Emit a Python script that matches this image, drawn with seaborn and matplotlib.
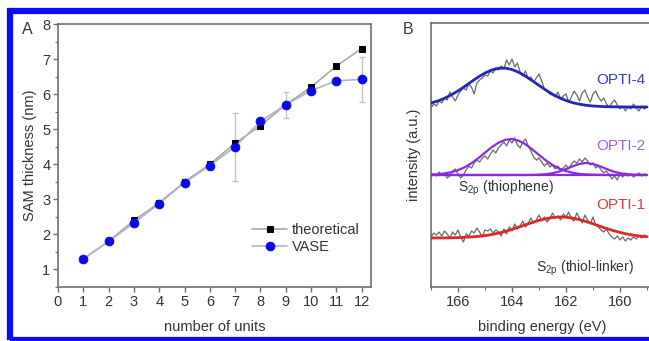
import numpy as np
import pandas as pd
import matplotlib
matplotlib.use("Agg")
import matplotlib.pyplot as plt
import seaborn as sns
from matplotlib.patches import Rectangle

sns.set_theme(style="white")
plt.rcParams['font.family'] = ['Liberation Sans', 'DejaVu Sans']

# ---------------- Panel A data ----------------
units = [1, 2, 3, 4, 5, 6, 7, 8, 9, 10, 11, 12]
theoretical = [1.3, 1.8, 2.4, 2.9, 3.5, 4.0, 4.6, 5.1, 5.7, 6.2, 6.8, 7.3]
vase = [1.3, 1.8, 2.32, 2.88, 3.48, 3.96, 4.5, 5.22, 5.7, 6.1, 6.38, 6.42]
vase_err = [0.03, 0.03, 0.05, 0.04, 0.04, 0.04, 0.97, 0.08, 0.37, 0.05, 0.05, 0.65]

# ---------------- Panel B data ----------------
energy = [167.0, 166.9, 166.8, 166.7, 166.6, 166.5, 166.4, 166.3, 166.2, 166.1,
          166.0, 165.9, 165.8, 165.7, 165.6, 165.5, 165.4, 165.3, 165.2, 165.1,
          165.0, 164.9, 164.8, 164.7, 164.6, 164.5, 164.4, 164.3, 164.2, 164.1,
          164.0, 163.9, 163.8, 163.7, 163.6, 163.5, 163.4, 163.3, 163.2, 163.1,
          163.0, 162.9, 162.8, 162.7, 162.6, 162.5, 162.4, 162.3, 162.2, 162.1,
          162.0, 161.9, 161.8, 161.7, 161.6, 161.5, 161.4, 161.3, 161.2, 161.1,
          161.0, 160.9, 160.8, 160.7, 160.6, 160.5, 160.4, 160.3, 160.2, 160.1,
          160.0, 159.9, 159.8, 159.7, 159.6, 159.5, 159.4, 159.3, 159.2, 159.1,
          159.0]
opti4_raw = [179, 183, 181, 186, 184, 189, 187, 195, 190, 186,
             192, 196, 199, 197, 203, 200, 193, 204, 207, 209,
             212, 211, 216, 214, 219, 217, 221, 218, 227, 222,
             228, 220, 224, 215, 211, 216, 208, 210, 205, 209,
             213, 206, 198, 196, 193, 192, 190, 195, 188, 191,
             193, 185, 190, 196, 192, 186, 194, 197, 190, 185,
             193, 196, 190, 186, 189, 183, 180, 184, 187, 182,
             178, 181, 176, 180, 178, 183, 179, 176, 181, 178,
             180]
opti2_raw = [110, 113, 111, 115, 112, 114, 109, 111, 116, 118,
             113, 109, 112, 117, 121, 119, 124, 127, 125, 129,
             131, 128, 133, 137, 134, 139, 142, 145, 141, 147,
             144, 149, 142, 139, 145, 148, 141, 136, 130, 127,
             129, 125, 121, 124, 120, 122, 118, 121, 117, 119,
             122, 118, 123, 126, 124, 128, 125, 129, 126, 122,
             124, 119, 121, 117, 114, 116, 112, 108, 111, 107,
             113, 110, 114, 111, 113, 110, 112, 114, 111, 113,
             112]
opti1_raw = [50, 54, 52, 55, 51, 56, 53, 49, 55, 52,
             57, 50, 45, 53, 51, 56, 54, 59, 55, 50,
             57, 56, 58, 54, 57, 55, 51, 58, 53, 60,
             56, 63, 58, 61, 66, 60, 64, 69, 64, 67,
             72, 66, 70, 65, 68, 74, 69, 71, 67, 73,
             70, 75, 68, 66, 74, 69, 64, 72, 67, 63,
             70, 62, 60, 57, 55, 58, 53, 50, 48, 51,
             47, 50, 46, 49, 47, 50, 48, 51, 49, 52,
             50]

fit_energy = [167.0, 166.75, 166.5, 166.25, 166.0, 165.75, 165.5, 165.25, 165.0,
              164.75, 164.5, 164.25, 164.0, 163.75, 163.5, 163.25, 163.0, 162.75,
              162.5, 162.25, 162.0, 161.75, 161.5, 161.25, 161.0, 160.75, 160.5,
              160.25, 160.0, 159.75, 159.5, 159.25, 159.0]
opti4_fit = [184.0, 186.0, 188.7, 192.1, 196.1, 200.6, 205.4, 210.0, 214.0,
             217.0, 218.7, 218.9, 217.5, 214.7, 210.8, 206.3, 201.6, 197.0,
             192.8, 189.3, 186.5, 184.3, 182.8, 181.7, 181.0, 180.6, 180.3,
             180.2, 180.1, 180.0, 180.0, 180.0, 180.0]
opti2_fit_a = [112.4, 112.7, 113.5, 114.8, 116.8, 119.8, 123.8, 128.8, 134.3,
               139.8, 144.3, 147.2, 148.0, 146.3, 142.7, 137.6, 132.0, 126.7,
               122.0, 118.4, 115.9, 114.2, 113.1, 112.6, 112.3, 112.1, 112.0,
               112.0, 112.0, 112.0, 112.0, 112.0, 112.0]
opti2_fit_b = [112.0, 112.0, 112.0, 112.0, 112.0, 112.0, 112.0, 112.0, 112.0,
               112.0, 112.0, 112.0, 112.0, 112.0, 112.0, 112.1, 112.3, 112.8,
               113.8, 115.5, 118.0, 120.8, 123.1, 124.0, 123.1, 120.8, 118.0,
               115.5, 113.8, 112.8, 112.3, 112.1, 112.0]
opti2_base = [112.0] * len(fit_energy)
opti1_fit = [49.0, 49.1, 49.1, 49.2, 49.4, 49.7, 50.1, 50.6, 51.4,
             52.5, 53.9, 55.6, 57.6, 59.9, 62.2, 64.5, 66.6, 68.3,
             69.5, 70.0, 69.8, 68.9, 67.4, 65.4, 63.2, 60.8, 58.5,
             56.4, 54.6, 53.0, 51.8, 50.9, 50.3]

# ---------------- Figure ----------------
W, H = 649, 341
fig = plt.figure(figsize=(W / 100, H / 100), dpi=100)
fig.patch.set_facecolor('white')

def ax_rect(l, t, r, b):
    return [l / W, 1 - b / H, (r - l) / W, (b - t) / H]

spine_col = '#6e6e6e'
text_col = '#333333'
FS = 10.5

# Panel A
axA = fig.add_axes(ax_rect(58, 24, 371, 287))
dfA = pd.DataFrame({'units': units, 'theoretical': theoretical, 'VASE': vase})
axA.errorbar(units, vase, yerr=vase_err, fmt='none', ecolor='#c4c4c4',
             elinewidth=1.0, capsize=2.5, capthick=1.0, zorder=1)
sns.lineplot(data=dfA, x='units', y='theoretical', ax=axA, color='#a8a8a8',
             lw=1.2, marker='s', markersize=5, markerfacecolor='black',
             markeredgecolor='black', label='theoretical', zorder=3)
sns.lineplot(data=dfA, x='units', y='VASE', ax=axA, color='#b2b2c8',
             lw=1.2, marker='o', markersize=6.2, markerfacecolor='#0a0ae6',
             markeredgecolor='#0a0ae6', label='VASE', zorder=4)
axA.set_xlim(0, 12.37)
axA.set_ylim(0.5, 8)
axA.set_xticks(range(0, 13))
axA.set_yticks(range(1, 9))
axA.set_yticks(np.arange(0.5, 8.01, 0.5), minor=True)
axA.set_xlabel('number of units', fontsize=FS, color=text_col, labelpad=8)
axA.set_ylabel('SAM thickness (nm)', fontsize=FS, color=text_col, labelpad=4)
leg = axA.legend(loc='lower right', bbox_to_anchor=(1.0, 0.08), frameon=False,
                 fontsize=FS, handlelength=2.4, handletextpad=0.3,
                 labelspacing=0.2, borderaxespad=0.4)
for t in leg.get_texts():
    t.set_color(text_col)

# Panel B
axB = fig.add_axes(ax_rect(431, 23, 652.4, 287))
dfB = pd.DataFrame({'E': energy, 'o4': opti4_raw, 'o2': opti2_raw, 'o1': opti1_raw})
dfF = pd.DataFrame({'E': fit_energy, 'o4': opti4_fit, 'o2a': opti2_fit_a,
                    'o2b': opti2_fit_b, 'o2base': opti2_base, 'o1': opti1_fit})
for col in ['o4', 'o2', 'o1']:
    sns.lineplot(data=dfB, x='E', y=col, ax=axB, color='#6a6a6a', lw=0.9,
                 sort=False, zorder=2)
sns.lineplot(data=dfF, x='E', y='o4', ax=axB, color='#2626b8', lw=2.0, sort=False, zorder=3)
sns.lineplot(data=dfF, x='E', y='o2base', ax=axB, color='#8a2be2', lw=1.6, sort=False, zorder=3)
sns.lineplot(data=dfF, x='E', y='o2a', ax=axB, color='#8a2be2', lw=1.6, sort=False, zorder=3)
sns.lineplot(data=dfF, x='E', y='o2b', ax=axB, color='#8a2be2', lw=1.6, sort=False, zorder=3)
sns.lineplot(data=dfF, x='E', y='o1', ax=axB, color='#e02828', lw=2.0, sort=False, zorder=3)
axB.set_xlim(167, 158.8)
axB.set_ylim(0, 264)
axB.set_xticks([166, 164, 162, 160])
axB.set_xticks([167, 165, 163, 161, 159], minor=True)
axB.set_yticks([])
axB.set_xlabel('binding energy (eV)', fontsize=FS, color=text_col, labelpad=8)
axB.set_ylabel('intensity (a.u.)', fontsize=FS, color=text_col, labelpad=7)
axB.text(159.05, 207, 'OPTI-4', color='#3a3ad0', fontsize=11, ha='right', va='center')
axB.text(159.05, 141, 'OPTI-2', color='#a060d0', fontsize=11, ha='right', va='center')
axB.text(159.05, 82, 'OPTI-1', color='#e03a3a', fontsize=11, ha='right', va='center')
axB.text(166.0, 99, r'S$_{\mathregular{2p}}$ (thiophene)', color=text_col, fontsize=10,
         ha='left', va='center')
axB.text(163.1, 19, r'S$_{\mathregular{2p}}$ (thiol-linker)', color=text_col, fontsize=10,
         ha='left', va='center')

for ax in (axA, axB):
    for s in ax.spines.values():
        s.set_color(spine_col)
        s.set_linewidth(1.2)
    ax.tick_params(axis='both', which='major', direction='out', length=3.5,
                   width=1.0, color=spine_col, labelsize=FS, labelcolor=text_col, pad=2)
    ax.tick_params(axis='both', which='minor', direction='out', length=2,
                   width=0.8, color=spine_col)
    ax.tick_params(left=True, bottom=True, which='both')
    ax.set_facecolor('white')
axB.tick_params(axis='y', which='both', left=False)

fig.text(22 / W, 1 - 30 / H, 'A', fontsize=11.5, color=text_col, ha='left', va='center')
fig.text(403 / W, 1 - 30 / H, 'B', fontsize=11.5, color=text_col, ha='left', va='center')

# blue frame
fig.patches.append(Rectangle((10 / W, 1 - 340 / H), 700 / W, (340 - 11) / H,
                             transform=fig.transFigure, fill=False,
                             edgecolor='#0a0aff', lw=4.5, zorder=10))

fig.savefig('out.png', dpi=100)
